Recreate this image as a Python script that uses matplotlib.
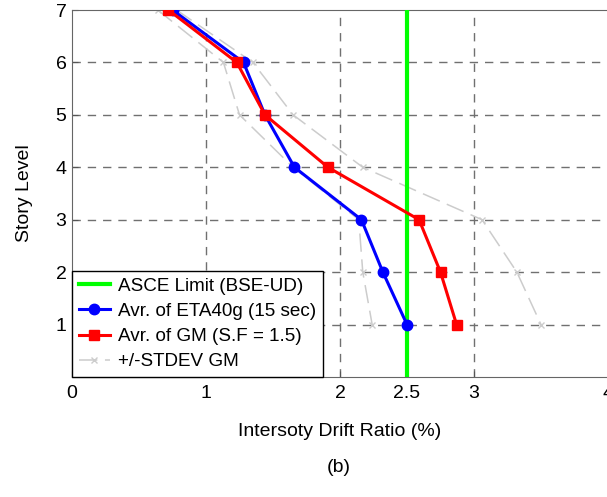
import numpy as np
import matplotlib as mpl
mpl.use('Agg')
import matplotlib.pyplot as plt

plt.rcParams['font.family'] = ['Liberation Sans', 'DejaVu Sans']

# story levels and drift ratios (%)
levels = [7, 6, 5, 4, 3, 2, 1]
eta40g_avg = [0.75, 1.28, 1.44, 1.66, 2.16, 2.32, 2.50]
gm_avg = [0.72, 1.23, 1.44, 1.91, 2.59, 2.75, 2.87]
gm_minus_std = [0.64, 1.13, 1.25, 1.65, 2.14, 2.17, 2.24]
gm_plus_std = [0.78, 1.35, 1.65, 2.17, 3.06, 3.32, 3.50]
asce_limit = 2.5

x_ticks = [0, 1, 2, 2.5, 3, 4]
y_ticks = [1, 2, 3, 4, 5, 6, 7]

FS = 14

fig = plt.figure(figsize=(6.07, 4.97), dpi=100)
ax = fig.add_axes([72 / 607, 120 / 497, 536 / 607, 367 / 497])

ax.axvline(asce_limit, color='#00ff00', lw=3, zorder=3, label='ASCE Limit (BSE-UD)')
ax.plot(eta40g_avg, levels, '-o', color='#0000ff', lw=2.2, ms=7.5, zorder=4,
        label='Avr. of ETA40g (15 sec)')
ax.plot(gm_avg, levels, '-s', color='#ff0000', lw=2.2, ms=7, zorder=5,
        label='Avr. of GM (S.F = 1.5)')
ax.plot(gm_minus_std, levels, '--x', color='#cccccc', lw=1.1, ms=4,
        dashes=(12, 5), zorder=2, label='+/-STDEV GM')
ax.plot(gm_plus_std, levels, '--x', color='#cccccc', lw=1.1, ms=4,
        dashes=(12, 5), zorder=2)

ax.set_xlim(0, 4)
ax.set_ylim(0, 7)
ax.set_xticks(x_ticks)
ax.set_xticklabels(['0', '1', '2', '2.5', '3', '4'])
ax.set_yticks(y_ticks)
ax.tick_params(direction='in', length=4, labelsize=FS, colors='#555555',
               labelcolor='black')
ax.tick_params(axis='x', pad=6)
ax.tick_params(axis='y', pad=4)

for v in [1, 2, 3]:
    ax.axvline(v, color='#707070', lw=1, dashes=(6, 5), zorder=1)
for v in [1, 2, 3, 4, 5, 6]:
    ax.axhline(v, color='#707070', lw=1, dashes=(6, 5), zorder=1)

for s in ax.spines.values():
    s.set_color('#666666')

ax.set_xlabel('Intersoty Drift Ratio (%)', fontsize=FS, labelpad=15)
ax.set_ylabel('Story Level', fontsize=FS, labelpad=16)
fig.text(339 / 607, 1 - 467 / 497, '(b)', fontsize=FS, ha='center', va='center')

leg = ax.legend(loc='lower left', borderaxespad=0, fontsize=13.6, fancybox=False,
                framealpha=1, edgecolor='black', handlelength=1.65,
                handletextpad=0.45, labelspacing=0.42, borderpad=0.35)
leg.get_frame().set_linewidth(1)
leg.set_zorder(10)

fig.savefig('out.png', dpi=100)
